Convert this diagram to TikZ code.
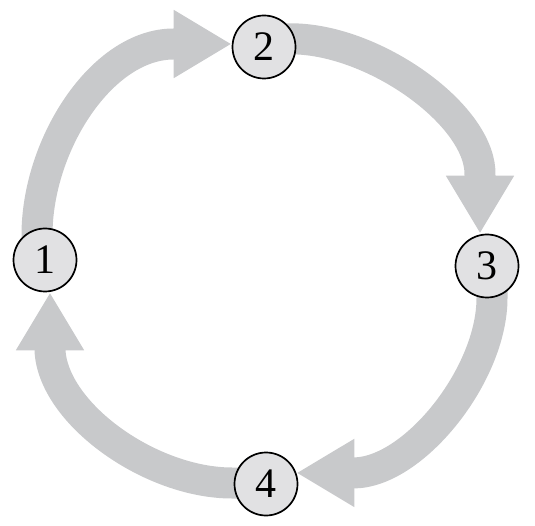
\documentclass[tikz,border=0pt]{standalone}
\usepackage{fontspec}
\setmainfont{Liberation Serif}
\usetikzlibrary{arrows.meta,backgrounds}
\definecolor{flowgray}{RGB}{200,201,203}
\definecolor{stategray}{RGB}{225,225,227}
\newcommand{\statefont}{\fontsize{42}{42}\selectfont}

\begin{document}
\begin{tikzpicture}[x=1pt,y=1pt,
      state/.style={
         circle,
         minimum size=63pt,
         inner sep=0pt,
         line width=1.7pt,
         draw=black,
         fill=stategray,
         font=\statefont
      },
      flow/.style={
         line width=31pt,
         draw=flowgray,
         -{Triangle[length=58pt,width=64pt]}
      }
    ]
    \useasboundingbox (0,0) rectangle (535,525);
    \node (c1) [state] at (45,265) {1};
    \node (c2) [state] at (264,478) {2};
    \node (c3) [state] at (487,259) {3};
    \node (c4) [state] at (266,41) {4};
    \begin{pgfonlayer}{background}
    % 1 -> 2
    \draw[flow] ([xshift=-8pt]c1.center) -- ++(0,25)
       .. controls +(0,90) and +(-72,0) .. ([xshift=-58pt,yshift=3pt]c2.west) -- ([yshift=3pt]c2.west);
    % 2 -> 3
    \draw[flow] ([yshift=8pt]c2.center) -- ++(34,0)
       .. controls +(82,-4) and +(2,58) .. ([xshift=-7pt,yshift=58pt]c3.north) -- ([xshift=-7pt]c3.north);
    % 3 -> 4
    \draw[flow] ([xshift=5pt]c3.center) -- ++(0,-32)
       .. controls +(0,-77) and +(60,0) .. ([xshift=57pt]c4.20) -- (c4.20);
    % 4 -> 1
    \draw[flow] ([yshift=1pt]c4.center) -- ++(-34,0)
       .. controls +(-82,0) and +(3,-63) .. ([xshift=5pt,yshift=-58pt]c1.south) -- ([xshift=5pt]c1.south);
    \end{pgfonlayer}
\end{tikzpicture}
\end{document}
